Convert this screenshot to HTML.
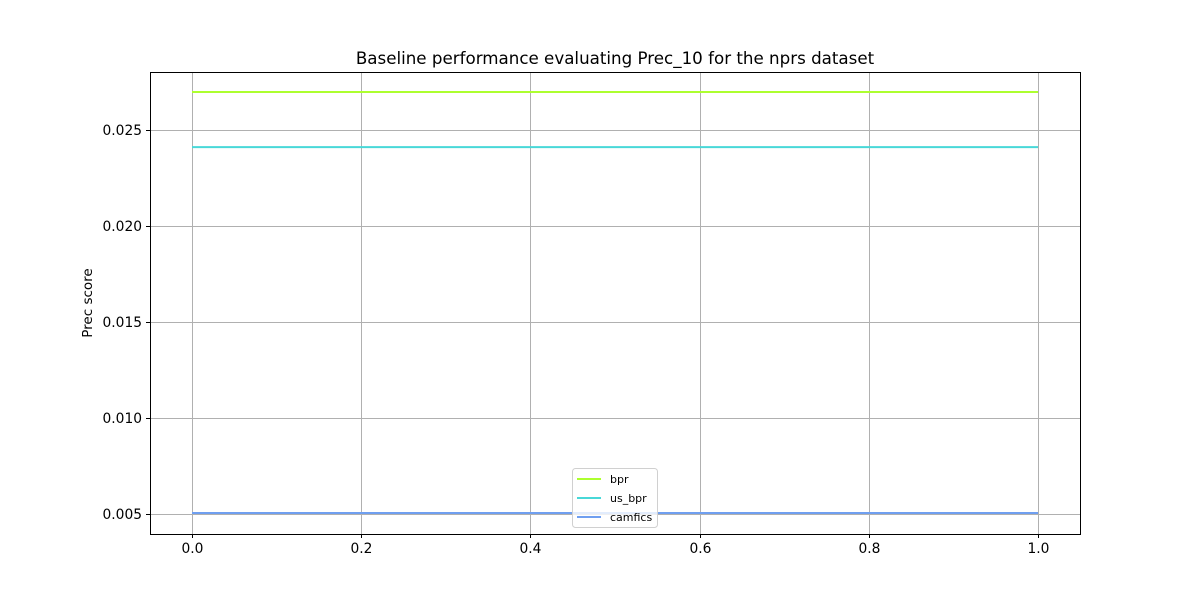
<!DOCTYPE html>
<html><head><meta charset="utf-8"><style>
body{margin:0;background:#fff;font-family:"Liberation Sans","DejaVu Sans",sans-serif;}
svg text{font-family:"DejaVu Sans","Liberation Sans",sans-serif;}
</style></head><body>
<svg id="chart" width="1200" height="600" xmlns="http://www.w3.org/2000/svg">
<rect width="1200" height="600" fill="#fff"/>
<g id="grid"></g>
<g id="ticks"></g>
<g id="series"></g>
<rect x="150.5" y="72.5" width="930" height="462" fill="none" stroke="#000" stroke-width="1"/>
<text x="615" y="64" font-size="16.7" text-anchor="middle">Baseline performance evaluating Prec_10 for the nprs dataset</text>
<text x="92" y="303" font-size="13.5" text-anchor="middle" transform="rotate(-90 92 303)">Prec score</text>
<g id="legend"></g>
</svg>
<script>
const seriesNames = ["bpr","us_bpr","camfics"];
const seriesValues = [0.02698, 0.02411, 0.00505];
const seriesColors = ["#adff2f","#48d8d8","#6f9ff0"];
const xStart = [0.0, 0.0, 0.0];
const xEnd = [1.0, 1.0, 1.0];
const xTicks = [0.0,0.2,0.4,0.6,0.8,1.0];
const xTickLabels = ["0.0","0.2","0.4","0.6","0.8","1.0"];
const yTicks = [0.005,0.010,0.015,0.020,0.025];
const yTickLabels = ["0.005","0.010","0.015","0.020","0.025"];

const NS="http://www.w3.org/2000/svg";
function X(v){return 192 + v*846;}
function Y(v){return 514 - (v-0.005)/0.005*96;}
function mk(tag,attrs,parent){const e=document.createElementNS(NS,tag);for(const k in attrs)e.setAttribute(k,attrs[k]);parent.appendChild(e);return e;}
const grid=document.getElementById('grid'),ticks=document.getElementById('ticks'),ser=document.getElementById('series'),leg=document.getElementById('legend');
xTicks.forEach((t,i)=>{
  const x=Math.round(X(t))+0.5;
  const g=mk('line',{x1:x,x2:x,y1:72,y2:534,stroke:'#b0b0b0','stroke-width':1},grid);
  
  
  const tk=mk('line',{x1:x,x2:x,y1:534,y2:538,stroke:'#000'},ticks);
  
  
  const tl=mk('text',{x:x,y:553,'font-size':13.8,'text-anchor':'middle'},ticks);
  tl.textContent=xTickLabels[i];
  
  
});
yTicks.forEach((t,i)=>{
  const y=Math.round(Y(t))+0.5;
  const g=mk('line',{x1:150,x2:1080,y1:y,y2:y,stroke:'#b0b0b0','stroke-width':1},grid);
  
  
  const tk=mk('line',{x1:146,x2:150,y1:y,y2:y,stroke:'#000'},ticks);
  
  
  const tl=mk('text',{x:142,y:y+4.5,'font-size':13.8,'text-anchor':'end'},ticks);
  tl.textContent=yTickLabels[i];
  
  
});
seriesNames.forEach((n,i)=>{
  const l=mk('line',{x1:X(xStart[i]),x2:X(xEnd[i]),y1:Y(seriesValues[i]),y2:Y(seriesValues[i]),stroke:seriesColors[i],'stroke-width':2},ser);
  
  
});
const box=mk('rect',{x:572.5,y:468.5,width:85,height:59,rx:3,fill:'#fff','fill-opacity':0.8,stroke:'#d0d0d0'},leg);


seriesNames.forEach((n,i)=>{
  const y=479+i*19;
  const ln=mk('line',{x1:577,x2:601,y1:y,y2:y,stroke:seriesColors[i],'stroke-width':2},leg);
  
  
  const t=mk('text',{x:610,y:y+4,'font-size':11},leg);
  t.textContent=n;
  
  
});
</script>
</body></html>
